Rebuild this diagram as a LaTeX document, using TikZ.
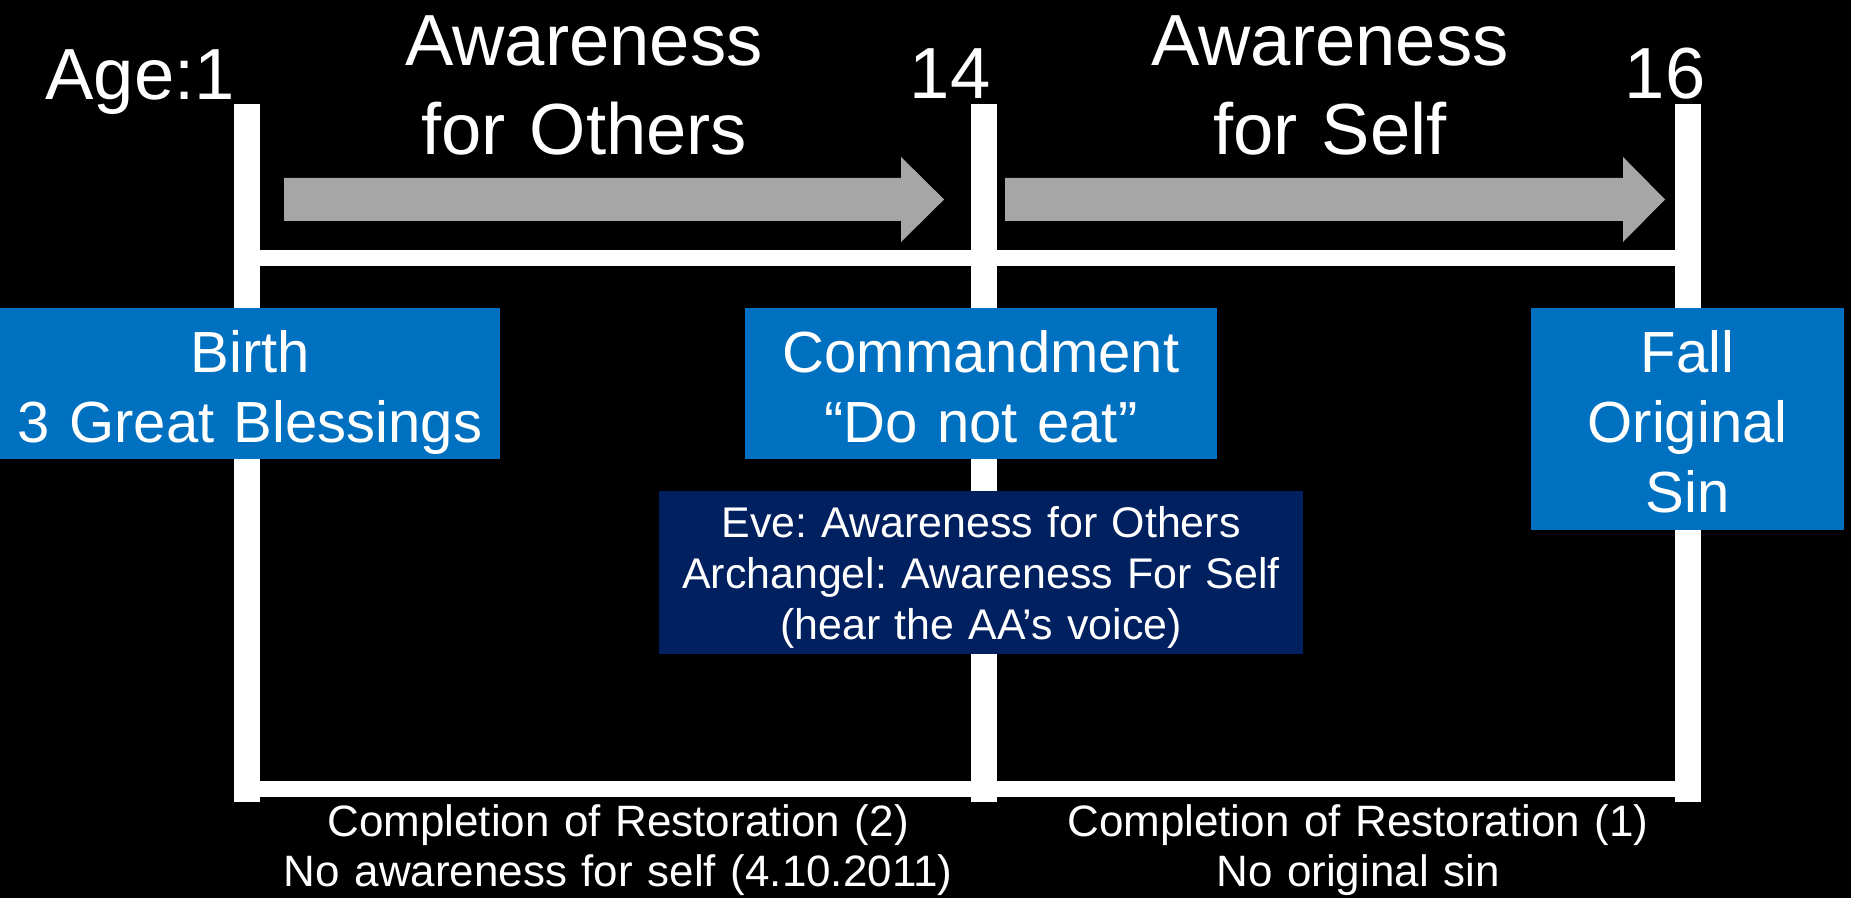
\documentclass[tikz,border=0pt]{standalone}
\usepackage{fontspec}
\setmainfont{Liberation Sans}
\frenchspacing
\usetikzlibrary{positioning}
\definecolor{boxblue}{RGB}{0,112,192}
\definecolor{boxnavy}{RGB}{0,32,96}
\definecolor{arrowgray}{RGB}{166,166,166}
\tikzstyle{timebar} = [draw=white, line width=0.26cm]
\tikzstyle{railline} = [draw=white, line width=0.16cm]
\tikzstyle{agelabel} = [text=white, inner sep=0, anchor=base, font=\fontsize{20.6pt}{25.3pt}\selectfont]
\tikzstyle{phaselabel} = [agelabel, text width=6cm, align=center]
\tikzstyle{eventbox} = [fill=boxblue, text=white, inner sep=0, anchor=base, align=center, text height=0.65cm, font=\fontsize{16.5pt}{19.9pt}\selectfont]
\tikzstyle{notebox} = [fill=boxnavy, text=white, inner sep=0, anchor=base, align=center, text height=0.47cm, text depth=1.16cm, font=\fontsize{12.2pt}{14.5pt}\selectfont]
\tikzstyle{resultlabel} = [text=white, inner sep=0, anchor=base, text width=7cm, align=center, font=\fontsize{12.5pt}{14.2pt}\selectfont]
% #1 name, #2 start, #3 head base, #4 tip (x only)
\newcommand{\grayarrow}[4]{%
\fill[arrowgray] (#2,178) -- (#3,178) -- (#3,157) -- (#4,199.5) -- (#3,242) -- (#3,221) -- (#2,221) -- cycle
  coordinate (#1) at (#4,199.5);}

\begin{document}
\begin{tikzpicture}[x=0.01cm, y=-0.01cm]
\fill[black] (0,0) rectangle (1851,898);

% ages and bars
\coordinate (v1t) at (247,104);
\coordinate (v1b) at (247,802);
\coordinate (v2t) at (983.5,104);
\coordinate (v2b) at (983.5,802);
\coordinate (v3t) at (1688,104);
\coordinate (v3b) at (1688,802);
\draw[timebar] (v1t) -- (v1b);
\draw[timebar] (v2t) -- (v2b);
\draw[timebar] (v3t) -- (v3b);
\coordinate (topl) at (247,258);
\coordinate (topr) at (1688,258);
\coordinate (botl) at (247,789);
\coordinate (botr) at (1688,789);
\draw[railline] (topl) -- (topr);
\draw[railline] (botl) -- (botr);

\node[agelabel] (age1) at (140,100) {Age:1};
\node[agelabel] (age14) at (950,99) {14};
\node[agelabel] (age16) at (1665,99) {16};

% phases
\node[phaselabel] (others) at (584,66) {Awareness\\for Others};
\node[phaselabel] (self) at (1330,66) {Awareness\\for Self};
\grayarrow{a1}{284}{901}{944}
\grayarrow{a2}{1005}{1623}{1665}

% events
\node[eventbox, text width=5cm, text depth=0.86cm] (birth) at (250,373) {Birth\\3 Great Blessings};
\node[eventbox, text width=4.72cm, text depth=0.86cm] (command) at (981,373) {Commandment\\“Do not eat”};
\node[eventbox, text width=3.13cm, text depth=1.57cm] (fall) at (1687.5,373) {Fall\\Original\\Sin};
\node[notebox, text width=6.44cm] (eve) at (981,538) {Eve: Awareness for Others\\Archangel: Awareness For Self\\(hear the AA’s voice)};

% results
\node[resultlabel] (restore2) at (618,837) {Completion of Restoration (2)\\No awareness for self (4.10.2011)};
\node[resultlabel] (restore1) at (1358,837) {Completion of Restoration (1)\\No original sin};
\end{tikzpicture}
\end{document}
